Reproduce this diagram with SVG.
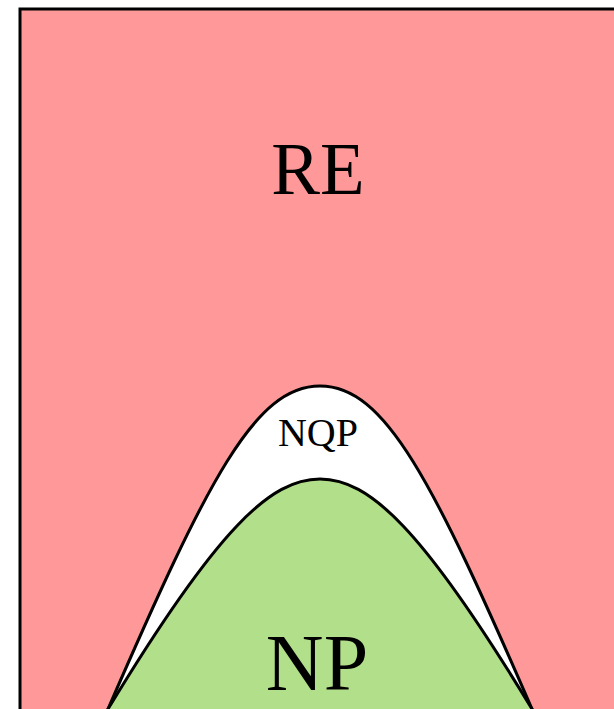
<svg xmlns="http://www.w3.org/2000/svg" width="614" height="709" viewBox="0 0 614 709">
<style>
.lbl{font-family:"Liberation Serif","Times New Roman",serif;fill:#000;text-anchor:middle}
.edge{stroke:#000;stroke-width:3}
</style>
<rect x="0" y="0" width="614" height="709" fill="#fff"/>
<g id="RE">
<rect class="edge" x="20" y="9" width="620" height="720" fill="#ff9999"/>
<text class="lbl" x="318" y="194" font-size="73">RE</text>
</g>
<g id="NQP">
<path class="edge" d="M106,714 L108,709 C208,479 255,386 320,386 C385,386 432,479 532,709 L534,714" fill="#fff"/>
<text class="lbl" x="318" y="446" font-size="40">NQP</text>
</g>
<g id="NP">
<path class="edge" d="M105,714 L108,709 C218,527.5 271,479 320,479 C369,479 422,527.5 532,709 L535,714" fill="#b2df8a"/>
<text class="lbl" x="317" y="690" font-size="80">NP</text>
</g>
<g id="connectors"/>
</svg>
